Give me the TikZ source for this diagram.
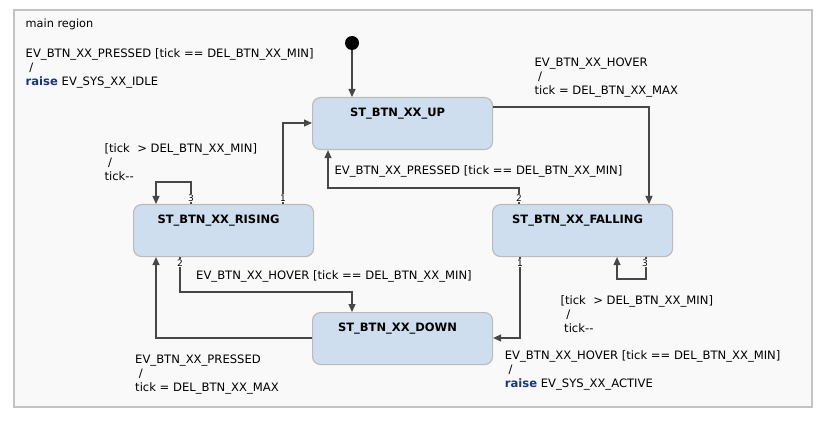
\documentclass[tikz,border=0pt]{standalone}
\usepackage{fontspec}
\setmainfont{DejaVu Sans}
\usetikzlibrary{arrows.meta}
\definecolor{regfill}{HTML}{F9F9F9}
\definecolor{regline}{HTML}{C3C3C3}
\definecolor{stfill}{HTML}{CFDEEE}
\definecolor{stline}{HTML}{BABABA}
\definecolor{trline}{HTML}{474747}
\definecolor{kw}{HTML}{1A3480}
\begin{document}
\begin{tikzpicture}[x=1pt,y=-1pt,
  stbox/.style={draw=stline, fill=stfill, line width=1.1pt, rounded corners=8pt,
    minimum width=180pt, minimum height=52pt, inner sep=0pt, anchor=north west},
  sttitle/.style={anchor=north, inner sep=0pt, font=\fontsize{11.5}{13}\selectfont\bfseries, yshift=-10.5pt, xshift=-5pt},
  tr/.style={draw=trline, line width=1.2pt, -{Triangle[length=8pt,width=7pt]}},
  txt/.style={anchor=north west, inner sep=0pt, align=left, font=\fontsize{11.6}{14}\selectfont},
  num/.style={font=\fontsize{9}{10}\selectfont, fill=white, inner sep=0.5pt}]
\useasboundingbox (0,0) rectangle (826,430);
\fill[white] (0,0) rectangle (826,430);
\draw[draw=regline, fill=regfill, line width=1.2pt] (14,10) rectangle (812,407);
\node[anchor=base west, inner sep=0pt, font=\fontsize{11.3}{14}\selectfont] (reg) at (25.5,27.5) {main region};

% states
\node[stbox, label={[sttitle]north:ST\_BTN\_XX\_UP}] (up) at (312,97) {};
\node[stbox, label={[sttitle]north:ST\_BTN\_XX\_RISING}] (rising) at (133,204) {};
\node[stbox, label={[sttitle]north:ST\_BTN\_XX\_FALLING}] (falling) at (492,204) {};
\node[stbox, label={[sttitle]north:ST\_BTN\_XX\_DOWN}] (down) at (312,312) {};

% initial
\node[circle, fill=black, minimum size=14pt, inner sep=0pt] (init) at (352,43) {};
\draw[tr] (init) -- (up.north -| init);

% helper coordinates
\coordinate (c3a) at (328,188);
\coordinate (c4a) at (156,182);
\coordinate (c5a) at (352,292);
\coordinate (c8a) at (617,279);

% transitions
\draw[tr] (rising.north -| 283,0) |- (up.west |- 0,123);
\draw[tr] (up.east |- 0,107) -| (falling.north -| 649,0);
\draw[tr] (falling.north -| 519,0) |- (c3a) -- (up.south -| c3a);
\draw[tr] (rising.north -| 191,0) |- (c4a) -- (rising.north -| c4a);
\draw[tr] (rising.south -| 180,0) |- (c5a) -- (down.north -| c5a);
\draw[tr] (down.west |- 0,338) -| (rising.south -| 156,0);
\draw[tr] (falling.south -| 520,0) |- (down.east |- 0,338);
\draw[tr] (falling.south -| 646,0) |- (c8a) -- (falling.south -| c8a);

% priority numbers
\node[num] (n1) at (283,198) {1};
\node[num] (n2) at (191,198) {3};
\node[num] (n3) at (519,198) {2};
\node[num] (n4) at (180,263) {2};
\node[num] (n5) at (520,263) {1};
\node[num] (n6) at (645,263) {3};

% labels
\node[txt] (l0) at (25.5,48.5) {EV\_BTN\_XX\_PRESSED [tick == DEL\_BTN\_XX\_MIN]\\\hspace*{.32em}/\\\textcolor{kw}{\textbf{raise}} EV\_SYS\_XX\_IDLE};
\node[txt] (l1) at (534.3,57.3) {EV\_BTN\_XX\_HOVER\\\hspace*{.32em}/\\tick = DEL\_BTN\_XX\_MAX};
\node[txt] (l2) at (334.3,165.7) {EV\_BTN\_XX\_PRESSED [tick == DEL\_BTN\_XX\_MIN]};
\node[txt] (l3) at (104.3,143.3) {[tick\ \ > DEL\_BTN\_XX\_MIN]\\\hspace*{.32em}/\\tick-{}-};
\node[txt] (l4) at (196,270) {EV\_BTN\_XX\_HOVER [tick == DEL\_BTN\_XX\_MIN]};
\node[txt] (l5) at (135,354.3) {EV\_BTN\_XX\_PRESSED\\\hspace*{.32em}/\\tick = DEL\_BTN\_XX\_MAX};
\node[txt] (l6) at (560.3,295) {[tick\ \ > DEL\_BTN\_XX\_MIN]\\\hspace*{.5em}/\\\hspace*{.32em}tick-{}-};
\node[txt] (l7) at (504.7,350.7) {EV\_BTN\_XX\_HOVER [tick == DEL\_BTN\_XX\_MIN]\\\hspace*{.32em}/\\\textcolor{kw}{\textbf{raise}} EV\_SYS\_XX\_ACTIVE};
\end{tikzpicture}
\end{document}
